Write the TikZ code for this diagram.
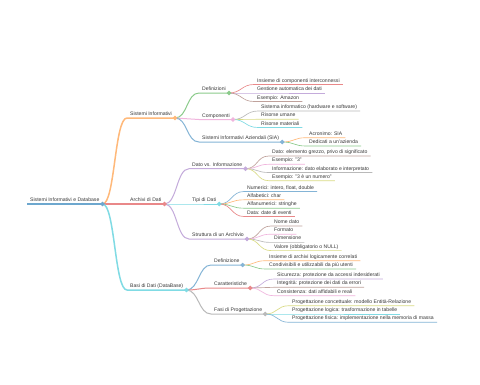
\documentclass[tikz,border=0pt]{standalone}
\usepackage{fontspec}
\setmainfont{Liberation Sans}
\usepackage{tikz}
\usetikzlibrary{positioning}
\usepackage{xcolor}
\definecolor{mmblue}{HTML}{1F77B4}
\definecolor{mmorange}{HTML}{FF7F0E}
\definecolor{mmgreen}{HTML}{2CA02C}
\definecolor{mmred}{HTML}{D62728}
\definecolor{mmpurple}{HTML}{9467BD}
\definecolor{mmbrown}{HTML}{8C564B}
\definecolor{mmpink}{HTML}{E377C2}
\definecolor{mmgrey}{HTML}{7F7F7F}
\definecolor{mmolive}{HTML}{BCBD22}
\definecolor{mmcyan}{HTML}{17BECF}

\tikzset{
  lbl/.style={anchor=south west, inner xsep=3pt, inner ysep=2.3pt, text depth=0pt,
    font=\fontsize{5.1}{6}\selectfont, text=black!78},
  l0/.style={line width=1.7pt},
  l1/.style={line width=1.5pt},
  l2/.style={line width=1.0pt},
  l3/.style={line width=0.65pt},
  link/.style={to path={.. controls +(12.5,0) and +(-12.5,0) .. (\tikztotarget)}},
  knob/.style={fill=white, line width=0.65pt}
}

\begin{document}
\begin{tikzpicture}[x=1pt, y=-1pt]
  \fill[white] (0,0) rectangle (480,384);
  \useasboundingbox (0,0) rectangle (480,384);
  % root and first level
  \node[lbl] (root) at (27,204) {Sistemi Informativi e Database};
  \node[lbl] (si) at (127,118) {Sistemi Informativi};
  \node[lbl] (ad) at (127,204) {Archivi di Dati};
  \node[lbl] (bd) at (127,290) {Basi di Dati (DataBase)};
  % Sistemi Informativi
  \node[lbl] (def) at (199,93) {Definizioni};
  \node[lbl] (ins) at (254,84.5) {Insieme di componenti interconnessi};
  \node[lbl] (ges) at (254,93) {Gestione automatica dei dati};
  \node[lbl] (ama) at (254,101.5) {Esempio: Amazon};
  \node[lbl] (comp) at (199,119.5) {Componenti};
  \node[lbl] (hw) at (258,111) {Sistema informatico (hardware e software)};
  \node[lbl] (ru) at (258,119.3) {Risorse umane};
  \node[lbl] (rm) at (258,127.5) {Risorse materiali};
  \node[lbl] (sia) at (199,142) {Sistemi Informativi Aziendali (SIA)};
  \node[lbl] (acr) at (306,137.7) {Acronimo: SIA};
  \node[lbl] (azi) at (306,146) {Dedicati a un'azienda};
  % Archivi di Dati
  \node[lbl] (dvi) at (189,168.7) {Dato vs. Informazione};
  \node[lbl] (dato) at (269,156) {Dato: elemento grezzo, privo di significato};
  \node[lbl] (es3) at (269,164.3) {Esempio: "3"};
  \node[lbl] (info) at (269,172.5) {Informazione: dato elaborato e interpretato};
  \node[lbl] (es3n) at (269,180.7) {Esempio: "3 è un numero"};
  \node[lbl] (tipi) at (189,204) {Tipi di Dati};
  \node[lbl] (num) at (244,191.5) {Numerici: intero, float, double};
  \node[lbl] (alf) at (244,199.8) {Alfabetici: char};
  \node[lbl] (aln) at (244,208.2) {Alfanumerici: stringhe};
  \node[lbl] (data) at (244,216.5) {Data: date di eventi};
  \node[lbl] (str) at (189,239) {Struttura di un Archivio};
  \node[lbl] (nome) at (271,226) {Nome dato};
  \node[lbl] (form) at (271,234.2) {Formato};
  \node[lbl] (dim) at (271,242.4) {Dimensione};
  \node[lbl] (val) at (271,250.6) {Valore (obbligatorio o NULL)};
  % Basi di Dati
  \node[lbl] (bdef) at (211,265) {Definizione};
  \node[lbl] (corr) at (266,260.7) {Insieme di archivi logicamente correlati};
  \node[lbl] (cond) at (266,269) {Condivisibili e utilizzabili da più utenti};
  \node[lbl] (car) at (211,288) {Caratteristiche};
  \node[lbl] (sic) at (274,279) {Sicurezza: protezione da accessi indesiderati};
  \node[lbl] (integ) at (274,287.3) {Integrità: protezione dei dati da errori};
  \node[lbl] (cons) at (274,295.7) {Consistenza: dati affidabili e reali};
  \node[lbl] (fasi) at (211,314) {Fasi di Progettazione};
  \node[lbl] (conc) at (289,305.7) {Progettazione concettuale: modello Entità-Relazione};
  \node[lbl] (log) at (289,314) {Progettazione logica: trasformazione in tabelle};
  \node[lbl] (fis) at (289,322.3) {Progettazione fisica: implementazione nella memoria di massa};

  % branches
  \draw[mmblue!65, l0] (root.south west) -- (root.south east);
  \draw[mmorange!55, l1] (root.south east) to[link] (si.south west) -- (si.south east);
  \draw[mmred!55, l1] (root.south east) to[link] (ad.south west) -- (ad.south east);
  \draw[mmcyan!55, l1] (root.south east) to[link] (bd.south west) -- (bd.south east);

  \draw[mmgreen!55, l2] (si.south east) to[link] (def.south west) -- (def.south east);
  \draw[mmpink!55, l2] (si.south east) to[link] (comp.south west) -- (comp.south east);
  \draw[mmblue!55, l2] (si.south east) to[link] (sia.south west) -- (sia.south east);
  \draw[mmred!55, l3] (def.south east) to[link] (ins.south west) -- (ins.south east);
  \draw[mmpurple!55, l3] (def.south east) to[link] (ges.south west) -- (ges.south east);
  \draw[mmbrown!55, l3] (def.south east) to[link] (ama.south west) -- (ama.south east);
  \draw[mmgrey!55, l3] (comp.south east) to[link] (hw.south west) -- (hw.south east);
  \draw[mmolive!55, l3] (comp.south east) to[link] (ru.south west) -- (ru.south east);
  \draw[mmcyan!55, l3] (comp.south east) to[link] (rm.south west) -- (rm.south east);
  \draw[mmorange!55, l3] (sia.south east) to[link] (acr.south west) -- (acr.south east);
  \draw[mmgreen!55, l3] (sia.south east) to[link] (azi.south west) -- (azi.south east);

  \draw[mmpurple!55, l2] (ad.south east) to[link] (dvi.south west) -- (dvi.south east);
  \draw[mmcyan!55, l2] (ad.south east) to[link] (tipi.south west) -- (tipi.south east);
  \draw[mmpurple!55, l2] (ad.south east) to[link] (str.south west) -- (str.south east);
  \draw[mmbrown!55, l3] (dvi.south east) to[link] (dato.south west) -- (dato.south east);
  \draw[mmpink!55, l3] (dvi.south east) to[link] (es3.south west) -- (es3.south east);
  \draw[mmgrey!55, l3] (dvi.south east) to[link] (info.south west) -- (info.south east);
  \draw[mmolive!55, l3] (dvi.south east) to[link] (es3n.south west) -- (es3n.south east);
  \draw[mmblue!55, l3] (tipi.south east) to[link] (num.south west) -- (num.south east);
  \draw[mmorange!55, l3] (tipi.south east) to[link] (alf.south west) -- (alf.south east);
  \draw[mmgreen!55, l3] (tipi.south east) to[link] (aln.south west) -- (aln.south east);
  \draw[mmred!55, l3] (tipi.south east) to[link] (data.south west) -- (data.south east);
  \draw[mmbrown!55, l3] (str.south east) to[link] (nome.south west) -- (nome.south east);
  \draw[mmpink!55, l3] (str.south east) to[link] (form.south west) -- (form.south east);
  \draw[mmgrey!55, l3] (str.south east) to[link] (dim.south west) -- (dim.south east);
  \draw[mmolive!55, l3] (str.south east) to[link] (val.south west) -- (val.south east);

  \draw[mmblue!55, l2] (bd.south east) to[link] (bdef.south west) -- (bdef.south east);
  \draw[mmred!55, l2] (bd.south east) to[link] (car.south west) -- (car.south east);
  \draw[mmgrey!55, l2] (bd.south east) to[link] (fasi.south west) -- (fasi.south east);
  \draw[mmorange!55, l3] (bdef.south east) to[link] (corr.south west) -- (corr.south east);
  \draw[mmgreen!55, l3] (bdef.south east) to[link] (cond.south west) -- (cond.south east);
  \draw[mmpurple!55, l3] (car.south east) to[link] (sic.south west) -- (sic.south east);
  \draw[mmbrown!55, l3] (car.south east) to[link] (integ.south west) -- (integ.south east);
  \draw[mmpink!55, l3] (car.south east) to[link] (cons.south west) -- (cons.south east);
  \draw[mmolive!55, l3] (fasi.south east) to[link] (conc.south west) -- (conc.south east);
  \draw[mmcyan!55, l3] (fasi.south east) to[link] (log.south west) -- (log.south east);
  \draw[mmblue!55, l3] (fasi.south east) to[link] (fis.south west) -- (fis.south east);

  % knobs on inner nodes
  \draw[knob, mmblue!65] (root.south east) circle (1.9);
  \draw[knob, mmorange!55] (si.south east) circle (1.9);
  \draw[knob, mmred!55] (ad.south east) circle (1.9);
  \draw[knob, mmcyan!55] (bd.south east) circle (1.9);
  \draw[knob, mmgreen!55] (def.south east) circle (1.9);
  \draw[knob, mmpink!55] (comp.south east) circle (1.9);
  \draw[knob, mmblue!55] (sia.south east) circle (1.9);
  \draw[knob, mmpurple!55] (dvi.south east) circle (1.9);
  \draw[knob, mmcyan!55] (tipi.south east) circle (1.9);
  \draw[knob, mmpurple!55] (str.south east) circle (1.9);
  \draw[knob, mmblue!55] (bdef.south east) circle (1.9);
  \draw[knob, mmred!55] (car.south east) circle (1.9);
  \draw[knob, mmgrey!55] (fasi.south east) circle (1.9);
\end{tikzpicture}
\end{document}
